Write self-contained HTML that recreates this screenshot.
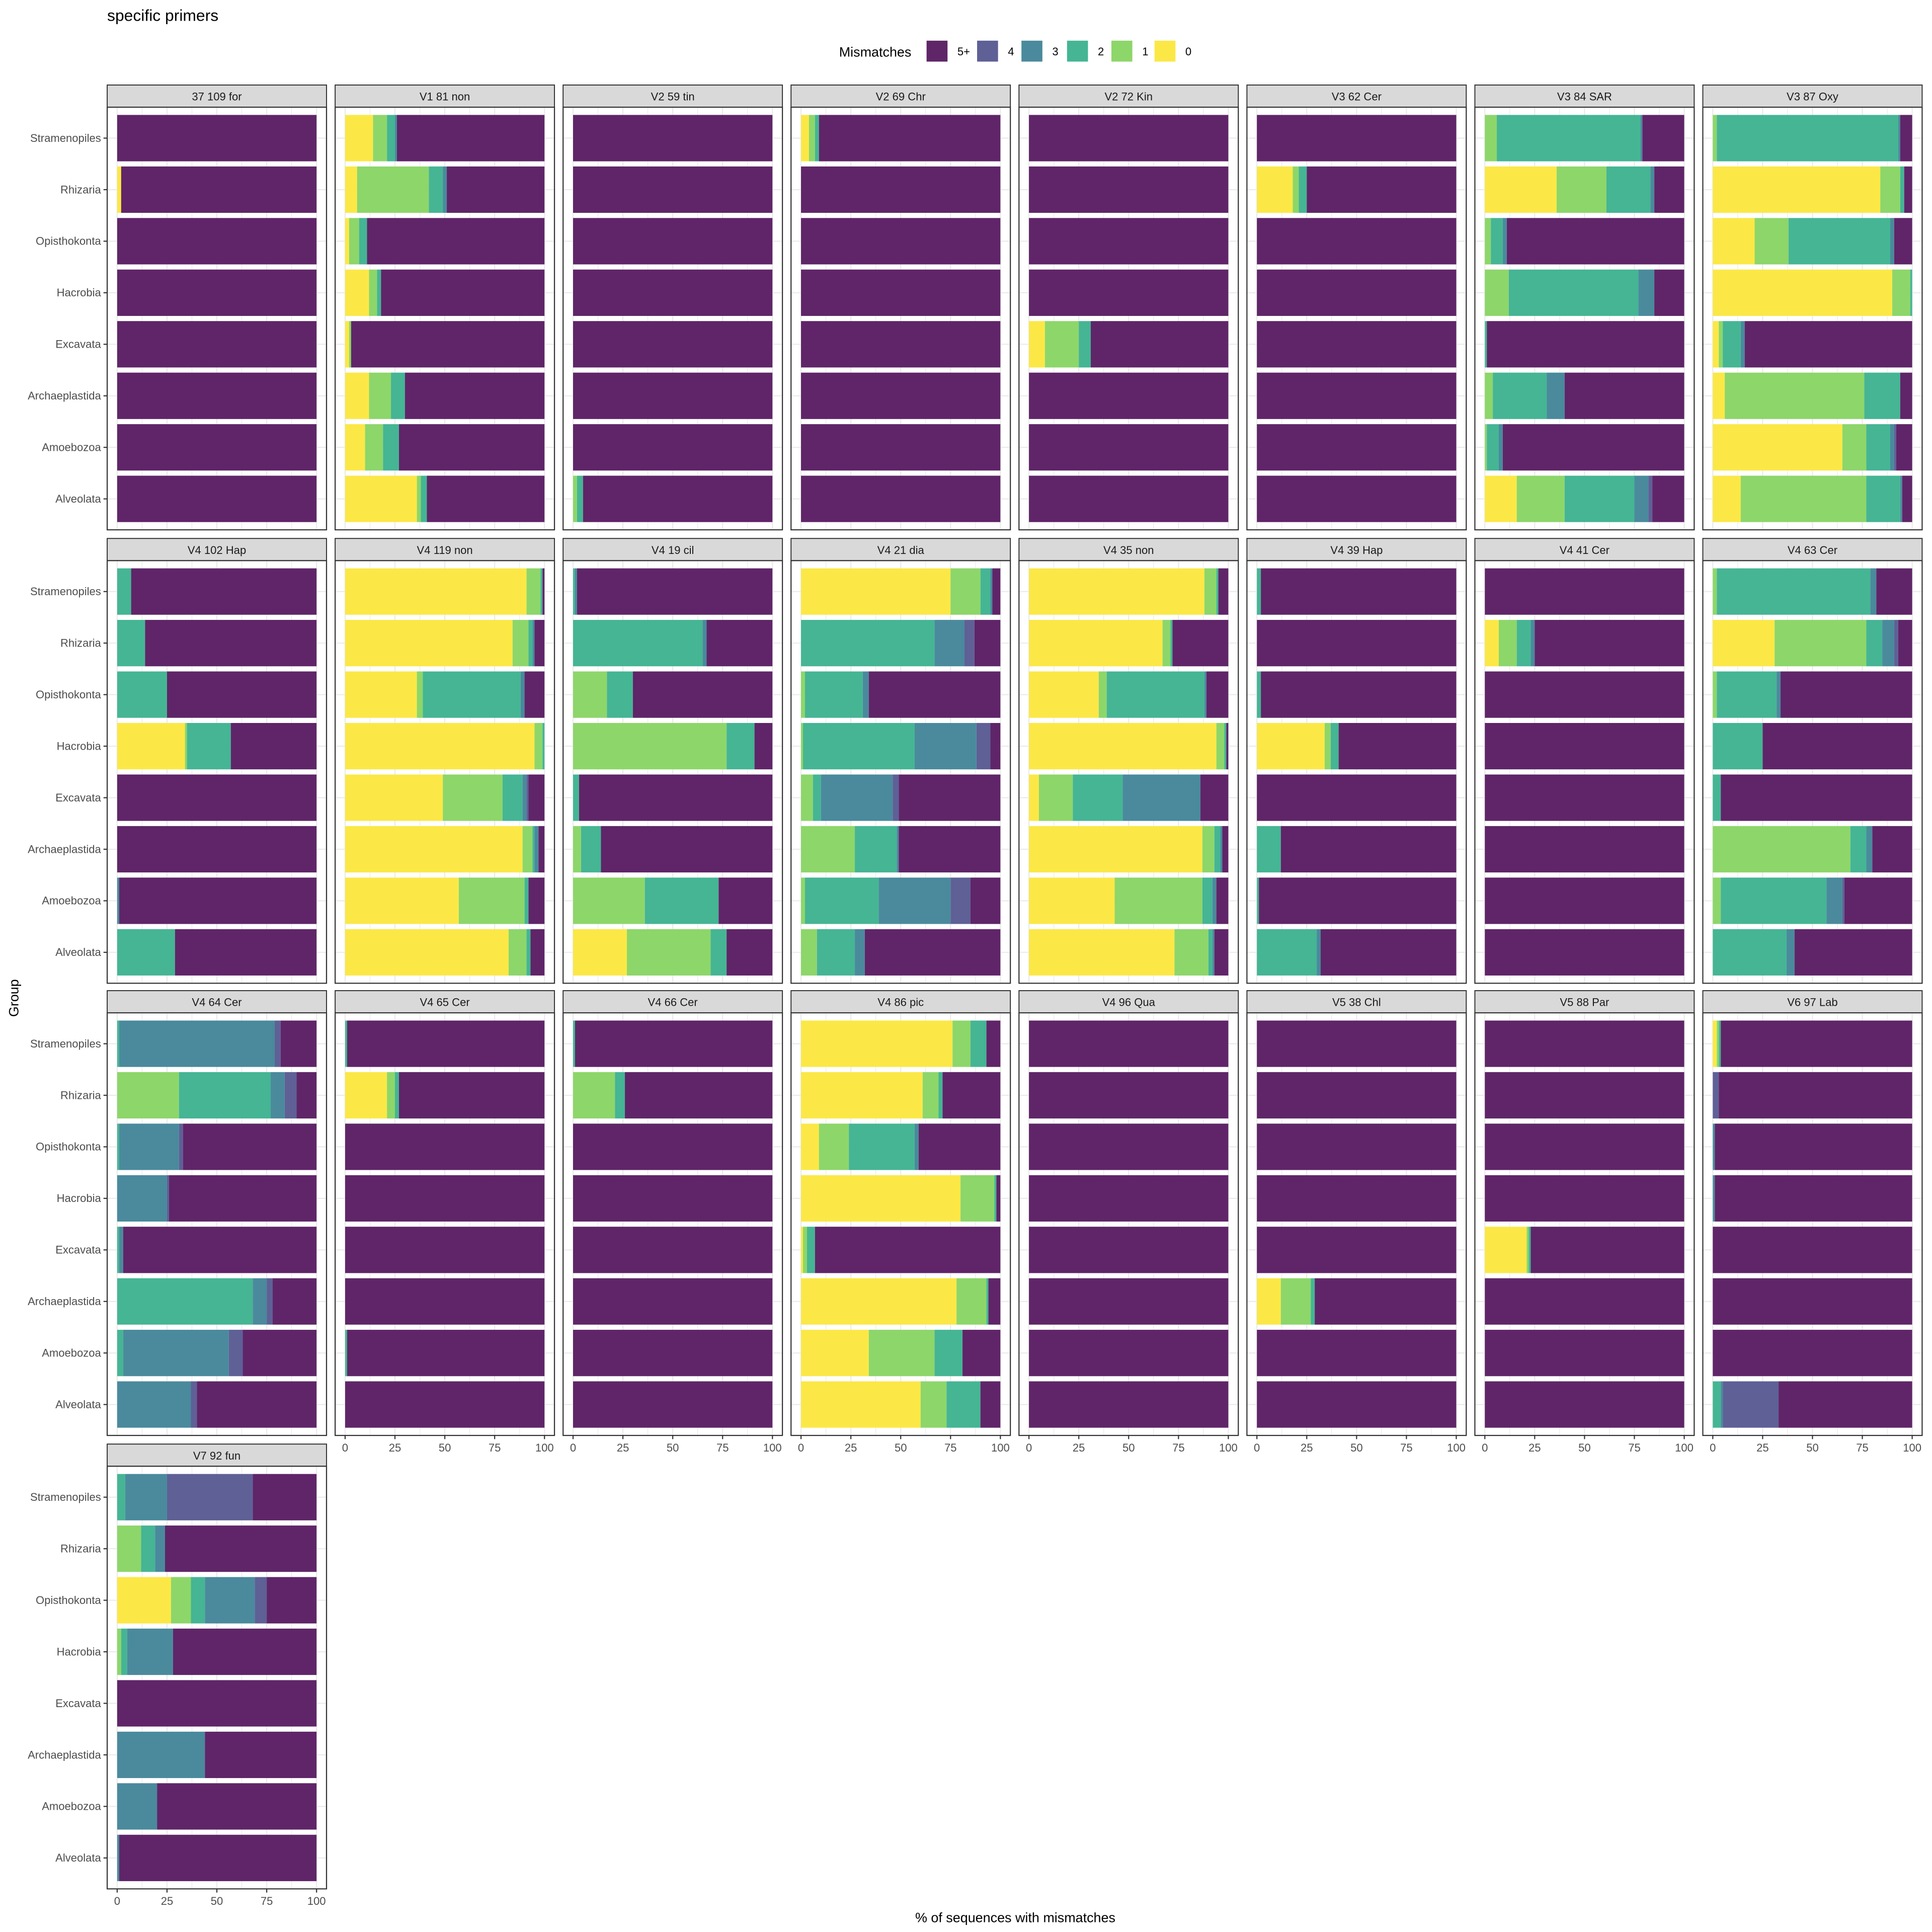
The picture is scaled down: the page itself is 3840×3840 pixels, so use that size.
<!DOCTYPE html>
<html><head><meta charset="utf-8"><style>
html,body{margin:0;padding:0;background:#fff;}
svg{display:block;font-family:"Liberation Sans",Arial,sans-serif;}
</style></head><body>
<svg id="chart" width="3840" height="3840" viewBox="0 0 1568 1568" xmlns="http://www.w3.org/2000/svg">
<text x="87" y="17" font-size="13" fill="#000">specific primers</text>
<g id="legend"></g>
<g id="panels"></g>
<text transform="translate(15,810) rotate(-90)" font-size="11" text-anchor="middle" fill="#000">Group</text>
<text x="824" y="1560" font-size="11" text-anchor="middle" fill="#000">% of sequences with mismatches</text>
</svg>
<script>
const groups=["Stramenopiles","Rhizaria","Opisthokonta","Hacrobia","Excavata","Archaeplastida","Amoebozoa","Alveolata"];
const mismatchLevels=["0","1","2","3","4","5+"];
const xTicks=[0,25,50,75,100];
const panelNames=["37 109 for","V1 81 non","V2 59 tin","V2 69 Chr","V2 72 Kin","V3 62 Cer","V3 84 SAR","V3 87 Oxy",
"V4 102 Hap","V4 119 non","V4 19 cil","V4 21 dia","V4 35 non","V4 39 Hap","V4 41 Cer","V4 63 Cer",
"V4 64 Cer","V4 65 Cer","V4 66 Cer","V4 86 pic","V4 96 Qua","V5 38 Chl","V5 88 Par","V6 97 Lab","V7 92 fun"];
// per panel, per group: % with 0,1,2,3,4 mismatches (5+ = remainder)
const Z=[0,0,0,0,0];
const panelValues=[
[Z,[2,0,0,0,0],Z,Z,Z,Z,Z,Z],
[[14,7,4,1,0],[6,36,7,2,0],[2,5,4,0,0],[12,4,2,0,0],[2,1,0,0,0],[12,11,7,0,0],[10,9,8,0,0],[36,2,3,0,0]],
[Z,Z,Z,Z,Z,Z,Z,[0,2,3,0,0]],
[[4,3,2,0,0],Z,Z,Z,Z,Z,Z,Z],
[Z,Z,Z,Z,[8,17,6,0,0],Z,Z,Z],
[Z,[18,3,4,0,0],Z,Z,Z,Z,Z,Z],
[[0,6,72,1,0],[36,25,22,2,0],[0,3,6,2,0],[0,12,65,8,0],[0,0,1,0,0],[0,4,27,9,0],[0,1,6,2,0],[16,24,35,7,2]],
[[0,2,91,1,0],[84,10,2,0,0],[21,17,51,2,0],[90,9,1,0,0],[3,2,9,2,0],[6,70,18,0,0],[65,12,12,2,1],[14,63,17,1,0]],
[[0,0,7,0,0],[0,0,14,0,0],[0,0,25,0,0],[34,1,22,0,0],Z,Z,[0,0,0,1,0],[0,0,29,0,0]],
[[91,7,1,0,0],[84,8,2,1,0],[36,3,49,2,0],[95,4,1,0,0],[49,30,10,2,1],[89,5,1,2,0],[57,33,2,0,0],[82,9,2,0,0]],
[[0,0,1,1,0],[0,0,65,2,0],[0,17,13,0,0],[0,77,14,0,0],[0,0,3,0,0],[0,4,10,0,0],[0,36,37,0,0],[27,42,8,0,0]],
[[75,15,5,1,0],[0,0,67,15,5],[0,2,29,3,0],[0,1,56,31,7],[0,6,4,36,3],[0,27,21,1,0],[0,2,37,36,10],[0,8,19,5,0]],
[[88,6,1,0,0],[67,4,1,0,0],[35,4,49,1,0],[94,4,1,0,0],[5,17,25,39,0],[87,6,3,1,0],[43,44,5,2,0],[73,17,2,1,0]],
[[0,0,2,0,0],Z,[0,0,2,0,0],[34,3,4,0,0],Z,[0,0,12,0,0],[0,0,1,0,0],[0,0,30,2,0]],
[Z,[7,9,7,2,0],Z,Z,Z,Z,Z,Z],
[[0,2,77,3,0],[31,46,8,6,2],[0,2,30,2,0],[0,0,25,0,0],[0,0,4,0,0],[0,69,8,3,0],[0,4,53,8,1],[0,0,37,4,0]],
[[0,0,1,78,3],[0,31,46,7,6],[0,0,1,30,2],[0,0,0,25,1],[0,0,1,2,0],[0,0,68,7,3],[0,0,3,53,7],[0,0,0,37,3]],
[[0,0,1,0,0],[21,4,2,0,0],Z,Z,Z,Z,[0,0,1,0,0],Z],
[[0,0,1,0,0],[0,21,5,0,0],Z,Z,Z,Z,Z,Z],
[[76,9,8,0,0],[61,8,2,0,0],[9,15,33,2,0],[80,17,1,0,0],[1,2,4,0,0],[78,15,1,0,0],[34,33,14,0,0],[60,13,17,0,0]],
[Z,Z,Z,Z,Z,Z,Z,Z],
[Z,Z,Z,Z,Z,[12,15,2,0,0],Z,Z],
[Z,Z,Z,Z,[21,1,1,0,0],Z,Z,Z],
[[2,1,1,0,0],[0,0,0,0,3],[0,0,0,1,0],[0,0,0,1,0],Z,Z,Z,[0,0,4,1,28]],
[[0,0,4,21,43],[0,12,7,5,0],[27,10,7,25,6],[0,2,3,23,0],Z,[0,0,0,44,0],[0,0,0,20,0],[0,0,0,1,0]]
];
const colors=["#fbe846","#8dd66a","#45b594","#4a8a9c","#5e6096","#5f2568"];
const NS="http://www.w3.org/2000/svg";
const panelsG=document.getElementById('panels');
const colX=[87,272,457,642,827,1012,1197,1382], rowY=[69,437,804,1172];
const PW=178, SH=18, PH=343;
const step=PH/8.2;
function mk(tag,attrs,parent){const e=document.createElementNS(NS,tag);for(const k in attrs)e.setAttribute(k,attrs[k]);parent.appendChild(e);return e;}
function xScale(v,left){return left+(v+5)*PW/110;}
function yCenter(i,top){return top+step*(0.6+i);}
const lg=document.getElementById('legend');
const lt=mk('text',{x:681,y:46,'font-size':11,fill:'#000'},lg);lt.textContent="Mismatches";


const legX=[752,793,829,866,902,937];
const legOrder=[5,4,3,2,1,0];
legOrder.forEach((lv,k)=>{
 const r=mk('rect',{x:legX[k],y:33,width:17,height:17,fill:colors[lv]},lg);
 
 
 const t=mk('text',{x:legX[k]+25,y:45,'font-size':9,fill:'#000'},lg);t.textContent=mismatchLevels[lv];
 
 
});
panelNames.forEach((name,p)=>{
 const col=p%8,row=Math.floor(p/8);
 const left=colX[col],st=rowY[row],top=st+SH;
 const g=mk('g',{},panelsG);
 
 
 const strip=mk('rect',{x:left,y:st,width:PW,height:SH,fill:'#d9d9d9',stroke:'#333','stroke-width':0.8},g);
 
 
 const stt=mk('text',{x:left+PW/2,y:st+12.5,'font-size':9,'text-anchor':'middle',fill:'#1a1a1a'},g);stt.textContent=name;
 
 
 mk('rect',{x:left,y:top,width:PW,height:PH,fill:'#fff'},g);
 for(let v=0;v<=100;v+=12.5){const x=xScale(v,left);mk('line',{x1:x,x2:x,y1:top,y2:top+PH,stroke:'#ebebeb','stroke-width':v%25===0?0.9:0.5},g);}
 groups.forEach((gn,i)=>{const yc=yCenter(i,top);mk('line',{x1:left,x2:left+PW,y1:yc,y2:yc,stroke:'#ebebeb','stroke-width':0.9},g);});
 groups.forEach((gn,i)=>{
  const vals=panelValues[p][i];const rest=100-vals.reduce((a,b)=>a+b,0);
  const all=vals.concat([rest]);let cum=0;
  const h=step*0.9,y0=yCenter(i,top)-h/2;
  all.forEach((v,k)=>{if(v<=0)return;
   const r=mk('rect',{x:xScale(cum,left),y:y0,width:xScale(cum+v,left)-xScale(cum,left),height:h,fill:colors[k]},g);
   
   
   cum+=v;});
 });
 mk('rect',{x:left,y:top,width:PW,height:PH,fill:'none',stroke:'#333','stroke-width':0.9},g);
 if(col===0){
  groups.forEach((gn,i)=>{const yc=yCenter(i,top);
   mk('line',{x1:left-3,x2:left,y1:yc,y2:yc,stroke:'#333','stroke-width':0.9},g);
   const t=mk('text',{x:left-5,y:yc+3,'font-size':9,'text-anchor':'end',fill:'#4d4d4d'},g);t.textContent=gn;
   
   });
 }
 const bottom=(row===2&&col>=1)||(row===3);
 if(bottom){
  xTicks.forEach(v=>{const x=xScale(v,left);
   mk('line',{x1:x,x2:x,y1:top+PH,y2:top+PH+3,stroke:'#333','stroke-width':0.9},g);
   const t=mk('text',{x:x,y:top+PH+13,'font-size':9,'text-anchor':'middle',fill:'#4d4d4d'},g);t.textContent=v;
   
   });
 }
});
</script>
</body></html>
